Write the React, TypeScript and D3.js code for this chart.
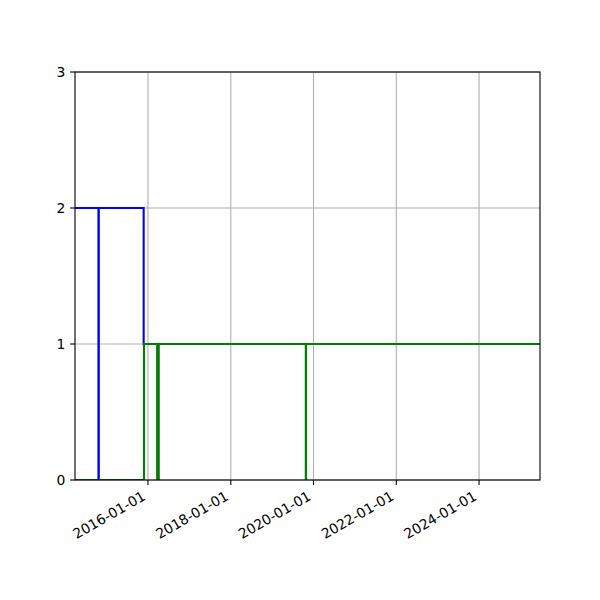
import { useEffect, useRef } from "react";
import * as d3 from "d3";

const W = 600;
const H = 600;
const M = { left: 75, right: 540, top: 72, bottom: 480 };

// step series (value holds until the next date)
const blueDates = ["2014-03-28", "2014-10-21", "2014-10-24", "2015-11-24", "2016-03-29", "2016-03-30", "2025-06-22"];
const blueValues = [2, 0, 2, 1, 0, 1, 1];

const greenDates = ["2014-03-28", "2015-11-27", "2016-03-22", "2016-04-05", "2019-10-25", "2019-10-27", "2025-06-22"];
const greenValues = [0, 1, 0, 1, 0, 1, 1];

const xTickLabels = ["2016-01-01", "2018-01-01", "2020-01-01", "2022-01-01", "2024-01-01"];
const yTicks = [0, 1, 2, 3];
const xDomain = ["2014-03-28", "2025-06-22"];

type Pt = { d: Date; v: number };

export default function App() {
  const ref = useRef<SVGSVGElement | null>(null);

  useEffect(() => {
    const svgEl = ref.current;
    if (!svgEl) return;
    const svg = d3.select(svgEl);
    svg.selectAll("*").remove();

    const parse = d3.utcParse("%Y-%m-%d");
    const x = d3
      .scaleUtc()
      .domain(xDomain.map((s) => parse(s) as Date))
      .range([M.left, M.right]);
    const y = d3.scaleLinear().domain([0, 3]).range([M.bottom, M.top]);

    svg.append("rect").attr("width", W).attr("height", H).attr("fill", "white");

    svg
      .append("clipPath")
      .attr("id", "plot-clip")
      .append("rect")
      .attr("x", M.left)
      .attr("y", M.top)
      .attr("width", M.right - M.left)
      .attr("height", M.bottom - M.top);

    // grid
    const grid = svg.append("g").attr("stroke", "#b0b0b0").attr("stroke-width", 1.1);
    xTickLabels.forEach((t) => {
      const px = x(parse(t) as Date);
      grid.append("line").attr("x1", px).attr("x2", px).attr("y1", M.top).attr("y2", M.bottom);
    });
    yTicks.forEach((t) => {
      grid.append("line").attr("x1", M.left).attr("x2", M.right).attr("y1", y(t)).attr("y2", y(t));
    });

    const line = d3
      .line<Pt>()
      .x((p) => x(p.d))
      .y((p) => y(p.v))
      .curve(d3.curveStepAfter);

    const series = [
      { dates: blueDates, values: blueValues, color: "#0000ff" },
      { dates: greenDates, values: greenValues, color: "#008000" },
    ];
    const lines = svg.append("g").attr("clip-path", "url(#plot-clip)");
    series.forEach((s) => {
      const pts: Pt[] = s.dates.map((d, i) => ({ d: parse(d) as Date, v: s.values[i] }));
      lines
        .append("path")
        .attr("d", line(pts))
        .attr("fill", "none")
        .attr("stroke", s.color)
        .attr("stroke-width", 2.08)
        .attr("stroke-linejoin", "miter")
        .attr("stroke-linecap", "butt");
    });

    // spines
    svg
      .append("rect")
      .attr("x", M.left)
      .attr("y", M.top)
      .attr("width", M.right - M.left)
      .attr("height", M.bottom - M.top)
      .attr("fill", "none")
      .attr("stroke", "black")
      .attr("stroke-width", 1.1);

    const font = "DejaVu Sans, sans-serif";

    // x ticks
    const xt = svg.append("g");
    xTickLabels.forEach((t) => {
      const px = x(parse(t) as Date);
      xt.append("line")
        .attr("x1", px)
        .attr("x2", px)
        .attr("y1", M.bottom)
        .attr("y2", M.bottom + 4.9)
        .attr("stroke", "black")
        .attr("stroke-width", 1.1);
      const ox = px - 1.5;
      const oy = M.bottom + 19;
      xt.append("text")
        .attr("transform", `translate(${ox},${oy}) rotate(-30)`)
        .attr("text-anchor", "end")
        .style("font-family", font)
        .style("font-size", "13.9px")
        .attr("fill", "black")
        .text(t);
    });

    // y ticks
    const yt = svg.append("g");
    yTicks.forEach((t) => {
      const py = y(t);
      yt.append("line")
        .attr("x1", M.left - 4.9)
        .attr("x2", M.left)
        .attr("y1", py)
        .attr("y2", py)
        .attr("stroke", "black")
        .attr("stroke-width", 1.1);
      yt.append("text")
        .attr("x", M.left - 9.7)
        .attr("y", py)
        .attr("dy", "0.36em")
        .attr("text-anchor", "end")
        .style("font-family", font)
        .style("font-size", "13.9px")
        .attr("fill", "black")
        .text(String(t));
    });
  }, []);

  return (
    <svg
      ref={ref}
      width={W}
      height={H}
      style={{ position: "absolute", left: 0, top: 0, display: "block" }}
    />
  );
}
